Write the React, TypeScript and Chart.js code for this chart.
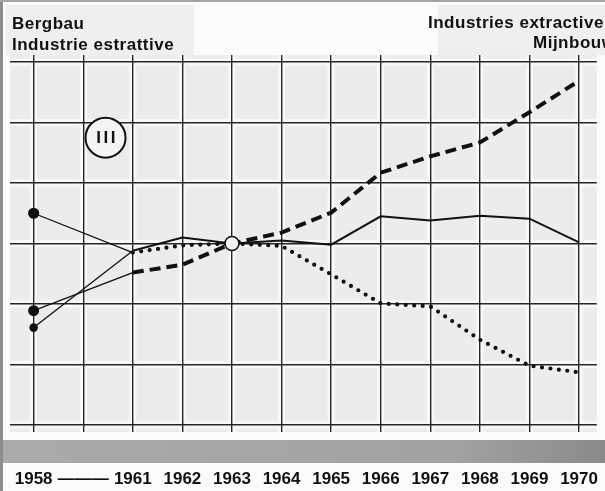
import React, { useEffect, useRef } from "react";
import { Chart, registerables } from "chart.js";
Chart.register(...registerables);

const years = ["1958", "———", "1961", "1962", "1963", "1964", "1965", "1966", "1967", "1968", "1969", "1970"];
const solidSeries = [86.1, null, 98.8, 101.0, 100.0, 100.5, 99.8, 104.5, 103.8, 104.6, 104.1, 100.2];
const dashedSeries = [88.9, null, 95.2, 96.5, 100.0, 101.8, 105.1, 111.7, 114.4, 116.7, 121.7, 126.9];
const dottedSeries = [105.0, null, 98.5, 99.7, 100.0, 99.6, 94.9, 90.1, 89.6, 84.1, 79.8, 78.7];
const yGrid = [70, 80, 90, 100, 110, 120, 130];
const titleLeft = ["Bergbau", "Industrie estrattive"];
const titleRight = ["Industries extractive", "Mijnbouw"];
const badge = "III";
const badgeAt = { x: 1.45, y: 117.5 };

const FONT = "'Liberation Sans', Arial, Helvetica, sans-serif";
const INK = "#111";

const toPts = (arr: (number | null)[]) => arr.map((v, i) => ({ x: i, y: v }));

const decor = {
  id: "decor",
  beforeDraw(chart: any) {
    const { ctx, chartArea: a, width, height } = chart;
    if (!a) return;
    ctx.save();
    ctx.fillStyle = "#fbfbfb";
    ctx.fillRect(0, 0, width, height);
    ctx.fillStyle = "#efefef";
    ctx.fillRect(6, 5, 188, 50);
    ctx.fillRect(438, 5, width - 438, 50);
    ctx.fillStyle = "#ececec";
    ctx.fillRect(a.left, a.top, a.right - a.left, a.bottom - a.top);
    ctx.strokeStyle = "#f8f8f8";
    ctx.lineWidth = 7;
    const xs = chart.scales.x, ys = chart.scales.y;
    ctx.beginPath();
    years.forEach((_, i) => {
      const px = xs.getPixelForValue(i);
      ctx.moveTo(px, a.top);
      ctx.lineTo(px, a.bottom);
    });
    yGrid.forEach((v) => {
      const py = ys.getPixelForValue(v);
      ctx.moveTo(a.left, py);
      ctx.lineTo(a.right, py);
    });
    ctx.stroke();
    const g = ctx.createLinearGradient(0, 0, width, 0);
    g.addColorStop(0, "#aaaaaa");
    g.addColorStop(0.75, "#a2a2a2");
    g.addColorStop(1, "#8a8a8a");
    ctx.fillStyle = g;
    ctx.fillRect(3, a.bottom + 8, width - 3, 23);
    ctx.fillStyle = "#8c8c8c";
    ctx.fillRect(0, 0, 3, height);
    ctx.fillStyle = "#a5a5a5";
    ctx.fillRect(0, 0, width, 2);
    ctx.restore();
  },
  afterDraw(chart: any) {
    const { ctx } = chart;
    ctx.save();
    ctx.fillStyle = INK;
    ctx.font = `bold 17px ${FONT}`;
    (ctx as any).letterSpacing = "0.5px";
    ctx.textBaseline = "alphabetic";
    ctx.textAlign = "left";
    ctx.fillText(titleLeft[0], 12, 29);
    ctx.fillText(titleLeft[1], 12, 50);
    ctx.fillText(titleRight[0], 428, 28);
    ctx.fillText(titleRight[1], 533, 48);
    const cx = chart.scales.x.getPixelForValue(badgeAt.x);
    const cy = chart.scales.y.getPixelForValue(badgeAt.y);
    ctx.beginPath();
    ctx.arc(cx, cy, 20, 0, Math.PI * 2);
    ctx.fillStyle = "#f4f4f4";
    ctx.fill();
    ctx.lineWidth = 2;
    ctx.strokeStyle = INK;
    ctx.stroke();
    ctx.fillStyle = INK;
    ctx.font = `bold 17px ${FONT}`;
    (ctx as any).letterSpacing = "2.5px";
    ctx.textAlign = "center";
    ctx.textBaseline = "middle";
    ctx.fillText(badge, cx + 1.5, cy + 1);
    ctx.restore();
  },
};

// the 1958 → 1961 stretch (across the skipped column) is drawn as a thin plain line
const thinFirst = (w: number, dash: number[]) => ({
  borderWidth: (c: any) => (c.p0DataIndex < 2 ? 1.3 : w),
  borderDash: (c: any) => (c.p0DataIndex < 2 ? [] : dash),
});

export default function App() {
  const ref = useRef<HTMLCanvasElement>(null);
  useEffect(() => {
    if (!ref.current) return;
    const gridOpts = { color: "#262626", lineWidth: 1.4, drawTicks: false };
    const chart = new Chart(ref.current, {
      type: "line",
      data: {
        datasets: [
          {
            label: "solid",
            data: toPts(solidSeries),
            borderColor: INK,
            borderWidth: 2,
            spanGaps: true,
            tension: 0,
            pointRadius: solidSeries.map((_, i) => (i === 0 ? 3.5 : i === 4 ? 7 : 0)),
            pointBackgroundColor: solidSeries.map((_, i) => (i === 4 ? "#f2f2f2" : INK)),
            pointBorderColor: INK,
            pointBorderWidth: 1.6,
            segment: thinFirst(2, []),
          },
          {
            label: "dashed",
            data: toPts(dashedSeries),
            borderColor: INK,
            borderWidth: 4,
            borderDash: [11, 6],
            spanGaps: true,
            tension: 0,
            pointRadius: dashedSeries.map((_, i) => (i === 0 ? 3.5 : 0)),
            pointBackgroundColor: INK,
            pointBorderColor: INK,
            segment: thinFirst(4, [11, 6]),
          },
          {
            label: "dotted",
            data: toPts(dottedSeries),
            borderColor: INK,
            borderWidth: 4.2,
            borderDash: [0, 8.5],
            borderCapStyle: "round",
            spanGaps: true,
            tension: 0,
            pointRadius: dottedSeries.map((_, i) => (i === 0 ? 3.5 : 0)),
            pointBackgroundColor: INK,
            pointBorderColor: INK,
            segment: thinFirst(4.2, [0, 8.5]),
          },
        ],
      },
      options: {
        responsive: false,
        animation: false,
        events: [],
        layout: { padding: { left: 10, top: 55, right: 0, bottom: 0 } },
        plugins: { legend: { display: false }, tooltip: { enabled: false }, title: { display: false } },
        scales: {
          x: {
            type: "linear",
            min: -0.477,
            max: 11.358,
            afterBuildTicks: (s: any) => {
              s.ticks = years.map((_, i) => ({ value: i }));
            },
            afterFit: (s: any) => {
              s.height = 59;
              s.paddingLeft = 0;
              s.paddingRight = 0;
            },
            ticks: {
              autoSkip: false,
              maxRotation: 0,
              minRotation: 0,
              padding: 37,
              color: INK,
              font: { family: FONT, size: 17, weight: "bold" },
              callback: (_v: any, i: number) => years[i],
            },
            grid: gridOpts,
            border: { display: false },
          },
          y: {
            type: "linear",
            min: 68.84,
            max: 131.16,
            afterBuildTicks: (s: any) => {
              s.ticks = yGrid.map((v) => ({ value: v }));
            },
            ticks: { display: false },
            grid: gridOpts,
            border: { display: false },
          },
        },
      },
      plugins: [decor],
    } as any);
    return () => chart.destroy();
  }, []);
  return (
    <div style={{ position: "fixed", left: 0, top: 0, width: 605, height: 491, background: "#fbfbfb" }}>
      <canvas ref={ref} width={605} height={491} style={{ display: "block" }} />
    </div>
  );
}
